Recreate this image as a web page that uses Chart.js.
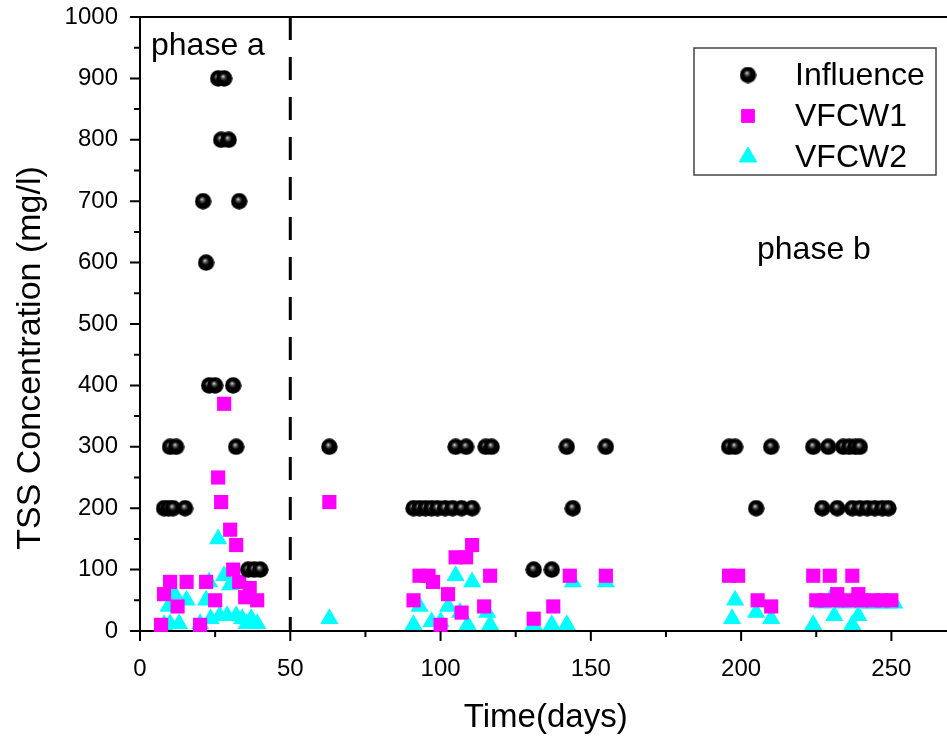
<!DOCTYPE html>
<html>
<head>
<meta charset="utf-8">
<script src="https://cdn.jsdelivr.net/npm/chart.js@4.4.1/dist/chart.umd.min.js"></script>
<style>
  html, body { margin: 0; padding: 0; background: #fff; overflow: hidden; }
  #wrap { width: 947px; height: 739px; overflow: hidden; }
  #chart { display: block; }
</style>
</head>
<body>
<div id="wrap"><canvas id="chart" width="962" height="739" style="width:962px;height:739px"></canvas></div>
<script>
// --- data ---
const influenceDays = [8, 9.5, 11, 15, 10, 12, 32, 23, 25, 31, 22, 21, 33, 27, 29.5, 26, 28, 36, 38, 40,
  63, 91, 93, 95, 97, 99, 101.5, 104, 107, 110.5, 105, 108.5, 115, 117, 131, 137, 142, 155, 144,
  196, 198, 210, 224, 229, 234, 236, 238, 239.5, 205, 227, 232, 237, 239.5, 242, 244.5, 247, 249];
const influenceTSS = [200, 200, 200, 200, 300, 300, 300, 400, 400, 400, 600, 700, 700, 800, 800, 900, 900, 100, 100, 100,
  300, 200, 200, 200, 200, 200, 200, 200, 200, 200, 300, 300, 300, 300, 100, 100, 300, 300, 200,
  300, 300, 300, 300, 300, 300, 300, 300, 300, 200, 200, 200, 200, 200, 200, 200, 200, 200];

const vfcw1Days = [7, 8, 10, 12.5, 15.5, 20, 22, 25, 26, 27, 28, 30, 31, 32, 33, 35, 36.5, 39,
  63, 91, 93, 96, 97.5, 100, 102.5, 105, 108.5, 110.5, 107, 114.5, 116.5, 131, 137.5, 143, 155,
  196, 199, 205.5, 210, 224, 229.5, 237, 232, 239, 225, 228, 232, 236, 240, 244, 247, 250];
const vfcw1TSS = [10, 60, 80, 40, 80, 10, 80, 50, 250, 210, 370, 165, 100, 140, 80, 55, 70, 50,
  210, 50, 90, 90, 80, 10, 60, 120, 120, 140, 30, 40, 90, 20, 40, 90, 90,
  90, 90, 50, 40, 90, 90, 90, 60, 60, 50, 50, 50, 50, 50, 50, 50, 50];

const vfcw2Days = [8, 9.5, 10, 11.5, 13, 15.5, 20, 22, 23, 23.5, 26, 26.5, 28, 29, 30, 32, 34, 35.5, 37, 39,
  63, 91, 93, 97, 100, 102.5, 105, 106.5, 109, 110.5, 115.5, 116.5, 131, 137, 142, 144, 155,
  197, 198, 205, 210, 224, 227, 230, 231, 234, 237, 239, 240, 243, 246, 249, 251];
const vfcw2TSS = [10, 40, 12, 60, 12, 50, 12, 50, 80, 20, 150, 25, 90, 25, 75, 25, 20, 12, 20, 12,
  20, 10, 40, 15, 15, 40, 90, 30, 10, 80, 30, 10, 10, 10, 10, 80, 80,
  20, 50, 30, 20, 10, 45, 55, 25, 45, 10, 25, 45, 45, 45, 45, 45];

const seriesNames = ['Influence', 'VFCW1', 'VFCW2'];
const xTicksMajor = 50;
const yTicksMajor = 100;

const FONT = "'Liberation Sans', Arial, sans-serif";

// shaded black ball used for the influence points
function makeSphere(d) {
    const c = document.createElement('canvas');
    c.width = c.height = d;
    const g = c.getContext('2d');
    const r = d / 2;
    const grad = g.createRadialGradient(r * 0.85, r * 0.75, 0, r, r, r);
    grad.addColorStop(0, '#f0f0f0');
    grad.addColorStop(0.18, '#666');
    grad.addColorStop(0.45, '#000');
    grad.addColorStop(1, '#000');
    g.fillStyle = grad;
    g.beginPath();
    g.arc(r, r, r - 0.3, 0, Math.PI * 2);
    g.fill();
    return c;
}
const sphere = makeSphere(17);

const toPoints = (xs, ys) => xs.map((x, i) => ({ x: x, y: ys[i] }));

// dashed phase divider, frame, ticks, y title, phase labels and boxed legend
const decorPlugin = {
    id: 'decor',
    beforeDatasetsDraw(chart) {
        const { ctx, chartArea, scales } = chart;
        const x = scales.x.getPixelForValue(50);
        ctx.save();
        ctx.strokeStyle = '#000';
        ctx.lineWidth = 3;
        ctx.setLineDash([23, 17]);
        ctx.beginPath();
        ctx.moveTo(x, chartArea.top);
        ctx.lineTo(x, chartArea.bottom);
        ctx.stroke();
        ctx.restore();
    },
    afterDraw(chart) {
        const { ctx, chartArea, scales } = chart;
        ctx.save();
        ctx.strokeStyle = '#000';
        ctx.lineWidth = 2;
        ctx.beginPath();
        ctx.moveTo(chartArea.left - 1, chartArea.top);
        ctx.lineTo(chart.width, chartArea.top);
        ctx.stroke();

        // tick marks: long on labelled values, short in between
        ctx.beginPath();
        scales.x.ticks.forEach(t => {
            const px = scales.x.getPixelForValue(t.value);
            const len = t.value % xTicksMajor === 0 ? 10 : 6;
            ctx.moveTo(px, chartArea.bottom);
            ctx.lineTo(px, chartArea.bottom + len);
        });
        scales.y.ticks.forEach(t => {
            const py = scales.y.getPixelForValue(t.value);
            const len = t.value % yTicksMajor === 0 ? 10 : 6;
            ctx.moveTo(chartArea.left, py);
            ctx.lineTo(chartArea.left - len, py);
        });
        ctx.stroke();

        ctx.fillStyle = '#000';
        // y axis title
        ctx.save();
        ctx.translate(31, 358);
        ctx.rotate(-Math.PI / 2);
        ctx.font = '34px ' + FONT;
        ctx.textAlign = 'center';
        ctx.textBaseline = 'middle';
        ctx.fillText('TSS Concentration (mg/l)', 0, 0);
        ctx.restore();

        // phase labels
        ctx.font = '32px ' + FONT;
        ctx.textBaseline = 'middle';
        ctx.textAlign = 'left';
        ctx.fillText('phase a', 151, 46);
        ctx.fillText('phase b', 757, 250);

        // legend
        ctx.strokeStyle = '#444';
        ctx.lineWidth = 1.5;
        ctx.strokeRect(694, 48, 242, 127);
        const rows = [75, 116, 157];
        chart.data.datasets.forEach((ds, i) => {
            ctx.fillStyle = ds.backgroundColor;
            ctx.strokeStyle = ds.borderColor;
            ctx.lineWidth = 1;
            Chart.helpers.drawPoint(ctx, { pointStyle: ds.pointStyle, radius: ds.legendRadius, rotation: 0, borderWidth: 1 }, 748, rows[i]);
            ctx.fillStyle = '#000';
            ctx.font = '32px ' + FONT;
            ctx.fillText(ds.label, 795, rows[i] + 1);
        });
        ctx.restore();
    }
};

new Chart(document.getElementById('chart'), {
    type: 'scatter',
    data: {
        datasets: [
            {
                label: seriesNames[0],
                data: toPoints(influenceDays, influenceTSS),
                pointStyle: sphere,
                backgroundColor: '#000',
                borderColor: '#000',
                legendRadius: 8,
                pointRadius: 8.5
            },
            {
                label: seriesNames[1],
                data: toPoints(vfcw1Days, vfcw1TSS),
                pointStyle: 'rect',
                backgroundColor: '#ff00ff',
                borderColor: '#ff00ff',
                borderWidth: 0,
                legendRadius: 9,
                pointRadius: 10
            },
            {
                label: seriesNames[2],
                data: toPoints(vfcw2Days, vfcw2TSS),
                pointStyle: 'triangle',
                backgroundColor: '#00ffff',
                borderColor: '#00ffff',
                borderWidth: 0,
                legendRadius: 10,
                pointRadius: 10.5
            }
        ]
    },
    options: {
        responsive: false,
        animation: false,
        clip: false,
        layout: { padding: { left: 0, top: 17, right: 2, bottom: 0 } },
        plugins: {
            legend: { display: false },
            tooltip: { enabled: false }
        },
        scales: {
            x: {
                type: 'linear',
                min: 0,
                max: 270,
                afterFit: (s) => { s.height = 108; s.paddingLeft = 0; s.paddingRight = 0; },
                border: { display: true, color: '#000', width: 2 },
                grid: { display: false, drawTicks: false },
                ticks: {
                    stepSize: 25,
                    includeBounds: false,
                    autoSkip: false,
                    maxRotation: 0,
                    padding: 24,
                    color: '#000',
                    font: { family: FONT, size: 24 },
                    callback: (v) => (v % xTicksMajor === 0 ? v : '')
                },
                title: {
                    display: true,
                    text: 'Time(days)',
                    color: '#000',
                    font: { family: FONT, size: 33 },
                    padding: { top: 0, bottom: 1 }
                }
            },
            y: {
                min: 0,
                max: 1000,
                afterFit: (s) => { s.width = 140; s.paddingTop = 0; s.paddingBottom = 0; },
                border: { display: true, color: '#000', width: 2 },
                grid: { display: false, drawTicks: false },
                ticks: {
                    stepSize: 50,
                    autoSkip: false,
                    padding: 22,
                    color: '#000',
                    font: { family: FONT, size: 24 },
                    callback: (v) => (v % yTicksMajor === 0 ? v : '')
                },
                title: { display: false }
            }
        }
    },
    plugins: [decorPlugin]
});
</script>
</body>
</html>
